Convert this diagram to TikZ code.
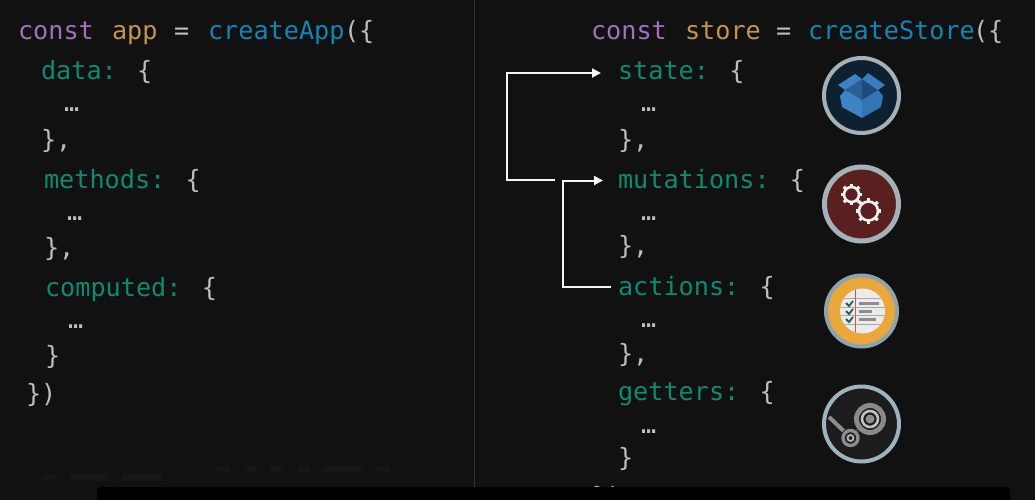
\documentclass[tikz,border=0pt]{standalone}
\usepackage{fontspec}
\setmainfont{DejaVu Sans Mono}
\definecolor{bgc}{HTML}{111112}
\definecolor{kw}{HTML}{A071B8}
\definecolor{vr}{HTML}{C2944F}
\definecolor{fn}{HTML}{1484B4}
\definecolor{ky}{HTML}{0F8A70}
\definecolor{pn}{HTML}{BDBDBD}
\definecolor{ring}{HTML}{A3B1B9}
\usetikzlibrary{calc,arrows.meta}
\newcommand{\gearshape}[3]{% x y r
  \foreach \a in {0,45,...,315}{\draw[white!88!gray,line width=3.2pt] ($(#1,#2)+(\a:#3)$) -- ($(#1,#2)+(\a:#3+3.4)$);}
  \draw[white!88!gray,line width=2.6pt] (#1,#2) circle (#3);
}
\tikzset{
  x=1pt,y=-1pt,
  hx/.code={\definecolor{tmpc}{HTML}{#1}\pgfkeysalso{color=tmpc}},
  code/.style={anchor=base west,inner sep=0pt,outer sep=0pt,font=\fontsize{25.2pt}{30pt}\selectfont,text=pn},
  wire/.style={draw=white!92!gray,line width=2pt},
  arrowwire/.style={wire,-{Triangle[length=9pt,width=9pt]}},
  ringc/.style={line width=4pt,draw=ring}
}
\begin{document}
\begin{tikzpicture}
\useasboundingbox (0,0) rectangle (1035,500);
\fill[bgc] (0,0) rectangle (1035,500);
\draw[color=gray!30!bgc,line width=1pt] (474.5,0) -- (474.5,488);
% left
\node[code,text=kw] (l1a) at (18,40) {const};
\node[code,text=vr] (l1b) at (112,40) {app};
\node[code] (l1c) at (174,40) {=};
\node[code,text=fn] (l1d) at (208,40) {createApp};
\node[code] (l1e) at (344,40) {(\{};
\node[code] (l2) at (41,80) {\textcolor{ky}{data:} \{};
\node[code] (l3) at (64,112) {…};
\node[code] (l4) at (41,148) {\},};
\node[code] (l5) at (44,188) {\textcolor{ky}{methods:} \{};
\node[code] (l6) at (67,220) {…};
\node[code] (l7) at (44,256) {\},};
\node[code] (l8) at (45,296) {\textcolor{ky}{computed:} \{};
\node[code] (l9) at (68,328) {…};
\node[code] (l10) at (45,364) {\}};
\node[code] (l11) at (26,402) {\})};
% right
\node[code,text=kw] (r1a) at (591,40) {const};
\node[code,text=vr] (r1b) at (685,40) {store};
\node[code] (r1c) at (776,40) {=};
\node[code,text=fn] (r1d) at (808,40) {createStore};
\node[code] (r1e) at (973,40) {(\{};
\node[code] (st) at (618,80) {\textcolor{ky}{state:} \{};
\node[code] (r3) at (641,112) {…};
\node[code] (r4) at (618,148) {\},};
\node[code] (mu) at (618,188) {\textcolor{ky}{mutations:} \{};
\node[code] (r6) at (641,220) {…};
\node[code] (r7) at (618,254) {\},};
\node[code] (ac) at (618,295) {\textcolor{ky}{actions:} \{};
\node[code] (r9) at (641,327) {…};
\node[code] (r10) at (618,362) {\},};
\node[code] (ge) at (618,400) {\textcolor{ky}{getters:} \{};
\node[code] (r12) at (641,433) {…};
\node[code] (r13) at (618,466) {\}};
\node[code] (r14) at (592,505) {\})};
% connectors
\coordinate (m1) at (555,180);
\coordinate (ma) at (603,180.5);
\coordinate (sa) at (601,73);
\coordinate (ae) at (611,287);
\draw[arrowwire] (m1) -| (507,73) -- (sa);
\draw[arrowwire] (ae) -| (563,180.5) -- (ma);
% box icon
\fill[hx=0F2030] (861.5,95.5) circle (38);
\draw[ringc] (861.5,95.5) circle (37.5);
\fill[hx=2A5F96] (845,90) -- (862,79) -- (862,100) -- cycle;
\fill[hx=1D4C7C] (878,90) -- (862,79) -- (862,100) -- cycle;
\fill[hx=3E82C4] (838,85) -- (855,74) -- (862,79) -- (845,90) -- cycle;
\fill[hx=3A7DBD] (862,79) -- (868,73) -- (885,85) -- (878,90) -- cycle;
\fill[hx=3F83C6] (840,96) -- (845,90) -- (862,100) -- (862,118) -- (842,107) -- cycle;
\fill[hx=3275B5] (883,96) -- (878,90) -- (862,100) -- (862,118) -- (881,107) -- cycle;
% gears icon
\fill[hx=5A2020] (861.5,204) circle (38);
\draw[ringc,line width=5pt] (861.5,204) circle (37);
\gearshape{851.5}{194.5}{7.5}
\gearshape{868.5}{211}{9.5}
% list icon
\fill[hx=E9A73C] (861.5,311) circle (36);
\draw[ringc,hx=8FA3AD] (861.5,311) circle (35.5);
\begin{scope}
\clip (862.5,311) circle (22.5);
\fill[hx=EDEBEA] (835,285) rectangle (890,340);
\foreach \yy in {298,307,315,324}{\draw[hx=A9A9B0,line width=.7pt] (838,\yy) -- (888,\yy);}
\draw[hx=C05A5A,line width=1pt] (855,285) -- (855,340);
\end{scope}
\foreach \yy in {303,311,319}{
  \draw[hx=2A5E5A,line width=1.8pt] (846,\yy) -- (849,\yy+3) -- (853,\yy-2);
}
\foreach \xa/\yy in {879/303,872/311,876/319}{\draw[hx=8E8E8E,line width=3pt] (859,\yy) -- (\xa,\yy);}
% steam icon
\fill[hx=1C1C1E] (861.5,424) circle (38);
\draw[ringc,hx=9DB4C0] (861.5,424) circle (37.5);
\draw[hx=8C8C8C,line width=4pt] (829,417) -- (850,437);
\draw[hx=8C8C8C,line width=4pt] (850,437) -- (870,420);
\fill[hx=1C1C1E] (850.5,438) circle (10);
\draw[hx=8C8C8C,line width=3.4pt] (850.5,438) circle (7.5);
\draw[hx=B8B8B8,line width=1.8pt] (850.5,438) circle (3);
\fill[hx=1C1C1E] (870,419) circle (17);
\draw[hx=8A8A8A,line width=5pt] (870,419) circle (13.5);
\draw[hx=C0C0C0,line width=2.6pt] (870,419) circle (8);
\fill[hx=8E8E8E] (870,419) circle (4.5);
% faint text
\foreach \xa/\xb in {43/55,70/108,122/162}{\fill[hx=161616] (\xa,474) rectangle (\xb,481);}
\foreach \xa/\xb in {162/175,190/202,215/228,243/255,268/308,322/335}{\fill[hx=161616] (\xa+55,466) rectangle (\xb+55,473);}
% caption bar
\fill[black,rounded corners=4pt] (97,487) rectangle (1010,512);
\end{tikzpicture}
\end{document}
